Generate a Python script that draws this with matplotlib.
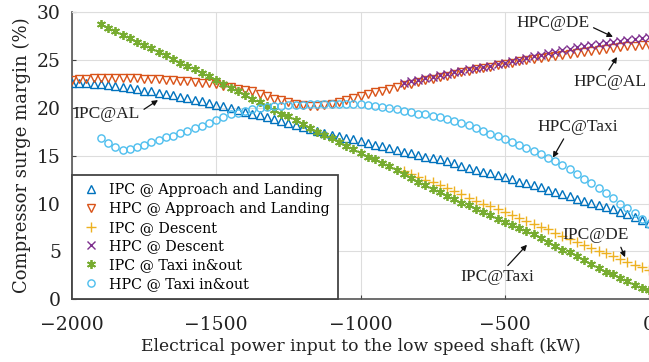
import matplotlib
matplotlib.use("Agg")
import matplotlib.pyplot as plt

# ---- data ----
X = [-2000, -1975, -1950, -1925, -1900, -1875, -1850, -1825, -1800, -1775,
     -1750, -1725, -1700, -1675, -1650, -1625, -1600, -1575, -1550, -1525,
     -1500, -1475, -1450, -1425, -1400, -1375, -1350, -1325, -1300, -1275,
     -1250, -1225, -1200, -1175, -1150, -1125, -1100, -1075, -1050, -1025,
     -1000, -975, -950, -925, -900, -875, -850, -825, -800, -775,
     -750, -725, -700, -675, -650, -625, -600, -575, -550, -525,
     -500, -475, -450, -425, -400, -375, -350, -325, -300, -275,
     -250, -225, -200, -175, -150, -125, -100, -75, -50, -25, 0]

ipc_al = [22.6, 22.6, 22.6, 22.5, 22.5, 22.4, 22.3, 22.2, 22.1, 22.0,
          21.8, 21.7, 21.5, 21.4, 21.3, 21.1, 21.0, 20.8, 20.7, 20.5,
          20.3, 20.2, 20.0, 19.8, 19.6, 19.4, 19.2, 19.0, 18.8, 18.6,
          18.4, 18.2, 18.0, 17.8, 17.6, 17.4, 17.2, 17.0, 16.8, 16.7,
          16.5, 16.3, 16.1, 16.0, 15.8, 15.6, 15.4, 15.3, 15.1, 14.9,
          14.8, 14.6, 14.4, 14.2, 13.9, 13.7, 13.5, 13.3, 13.2, 13.0,
          12.8, 12.6, 12.3, 12.1, 11.9, 11.7, 11.4, 11.2, 11.0, 10.8,
          10.5, 10.3, 10.1, 9.9, 9.6, 9.4, 9.1, 8.9, 8.6, 8.3, 8.0]

hpc_al = [22.9, 23.0, 23.0, 23.1, 23.1, 23.1, 23.1, 23.1, 23.1, 23.1,
          23.0, 23.0, 23.0, 22.9, 22.9, 22.8, 22.8, 22.7, 22.6, 22.6,
          22.5, 22.3, 22.2, 22.0, 21.9, 21.7, 21.4, 21.2, 20.9, 20.8,
          20.6, 20.4, 20.3, 20.2, 20.2, 20.3, 20.4, 20.6, 20.8, 21.0,
          21.2, 21.4, 21.6, 21.8, 22.0, 22.2, 22.4, 22.5, 22.7, 22.9,
          23.0, 23.2, 23.3, 23.5, 23.7, 23.8, 24.0, 24.2, 24.3, 24.5,
          24.6, 24.7, 24.9, 25.0, 25.1, 25.2, 25.3, 25.4, 25.5, 25.6,
          25.7, 25.8, 25.9, 26.0, 26.1, 26.2, 26.3, 26.4, 26.4, 26.5, 26.5]

ipc_de = [13.4, 13.1, 12.8, 12.5, 12.2, 11.9, 11.6, 11.3, 11.0, 10.6,
          10.3, 10.0, 9.7, 9.4, 9.1, 8.8, 8.5, 8.2, 7.9, 7.6,
          7.3, 6.9, 6.6, 6.3, 6.0, 5.7, 5.4, 5.1, 4.8, 4.5,
          4.2, 3.9, 3.6, 3.4, 3.1]

hpc_de = [22.6, 22.8, 22.9, 23.1, 23.2, 23.4, 23.5, 23.7, 23.8, 24.0,
          24.1, 24.3, 24.4, 24.6, 24.7, 24.9, 25.0, 25.2, 25.4, 25.5,
          25.7, 25.8, 26.0, 26.1, 26.3, 26.4, 26.6, 26.7, 26.8, 26.9,
          27.0, 27.1, 27.2, 27.3, 27.4]

ipc_taxi = [28.7, 28.3, 28.0, 27.6, 27.3, 26.9, 26.6, 26.2, 25.8, 25.5,
            25.1, 24.7, 24.4, 24.0, 23.6, 23.3, 22.9, 22.5, 22.1, 21.7,
            21.3, 20.9, 20.6, 20.2, 19.8, 19.4, 19.1, 18.7, 18.3, 17.9,
            17.5, 17.2, 16.8, 16.4, 16.0, 15.7, 15.3, 14.9, 14.6, 14.2,
            13.9, 13.5, 13.1, 12.7, 12.3, 11.9, 11.5, 11.2, 10.8, 10.5,
            10.1, 9.8, 9.4, 9.1, 8.8, 8.4, 8.1, 7.8, 7.5, 7.1,
            6.8, 6.4, 6.0, 5.6, 5.2, 4.9, 4.5, 4.1, 3.7, 3.3,
            2.9, 2.6, 2.2, 1.9, 1.5, 1.2, 1.0]

hpc_taxi = [16.8, 16.3, 15.9, 15.6, 15.7, 15.9, 16.1, 16.4, 16.6, 16.9,
            17.1, 17.4, 17.6, 17.9, 18.1, 18.4, 18.7, 19.0, 19.3, 19.5,
            19.7, 19.9, 20.0, 20.1, 20.2, 20.2, 20.3, 20.3, 20.3, 20.4,
            20.4, 20.4, 20.4, 20.4, 20.4, 20.4, 20.4, 20.3, 20.2, 20.1,
            20.0, 19.9, 19.7, 19.6, 19.4, 19.3, 19.1, 19.0, 18.8, 18.6,
            18.4, 18.2, 17.9, 17.6, 17.3, 17.0, 16.7, 16.4, 16.1, 15.8,
            15.5, 15.2, 14.8, 14.4, 14.0, 13.6, 13.1, 12.6, 12.1, 11.6,
            11.1, 10.6, 10.0, 9.5, 9.0, 8.4, 7.9]

x_al = X
x_taxi = X[4:]
x_de = X[46:]

labels = ["IPC @ Approach and Landing", "HPC @ Approach and Landing",
          "IPC @ Descent", "HPC @ Descent", "IPC @ Taxi in&out", "HPC @ Taxi in&out"]

x_ticks = [-2000, -1500, -1000, -500, 0]
x_tick_labels = ["\u22122000", "\u22121500", "\u22121000", "\u2212500", "0"]
y_ticks = [0, 5, 10, 15, 20, 25, 30]

c_blue = "#0072BD"
c_orange = "#D95319"
c_yellow = "#EDB120"
c_purple = "#7E2F8E"
c_green = "#77AC30"
c_cyan = "#4DBEEE"

serif = ["DejaVu Serif"]
ann_font = ["Liberation Serif"]

fig = plt.figure(figsize=(6.49, 3.62), dpi=100)
ax = fig.add_axes([0.111, 0.173, 0.889, 0.794])

ms = 5.2
mew = 1.0
ax.plot(x_al, ipc_al, linestyle="none", marker="^", markersize=ms, mfc="none",
        mec=c_blue, mew=mew, label=labels[0], zorder=3)
ax.plot(x_al, hpc_al, linestyle="none", marker="v", markersize=ms, mfc="none",
        mec=c_orange, mew=mew, label=labels[1], zorder=3)
ax.plot(x_de, ipc_de, linestyle="none", marker="+", markersize=ms + 1.5,
        mec=c_yellow, mew=mew, label=labels[2], zorder=3)
ax.plot(x_de, hpc_de, linestyle="none", marker="x", markersize=ms,
        mec=c_purple, mew=mew, label=labels[3], zorder=3)
ax.plot(x_taxi, ipc_taxi, linestyle="none", marker=(6, 2, 0), markersize=ms + 1.2,
        mec=c_green, mew=mew + 0.3, label=labels[4], zorder=3)
ax.plot(x_taxi, hpc_taxi, linestyle="none", marker="o", markersize=ms, mfc="none",
        mec=c_cyan, mew=mew, label=labels[5], zorder=3)

ax.set_xlim(-2000, 0)
ax.set_ylim(0, 30)
ax.set_xticks(x_ticks)
ax.set_yticks(y_ticks)
ax.set_xticklabels(x_tick_labels)
ax.grid(True, color="#dddddd", linewidth=0.8)
ax.set_axisbelow(True)
ax.tick_params(direction="in", length=3, colors="#444444", labelcolor="#222222",
               labelsize=13.5)
ax.tick_params(axis="x", pad=12)
ax.tick_params(axis="y", pad=8)
for lab in ax.get_xticklabels() + ax.get_yticklabels():
    lab.set_family(serif)

for side in ["left", "bottom"]:
    ax.spines[side].set_color("#555555")
    ax.spines[side].set_linewidth(1.2)
for side in ["top", "right"]:
    ax.spines[side].set_color("#dddddd")
    ax.spines[side].set_linewidth(0.8)

ax.set_xlabel("Electrical power input to the low speed shaft (kW)",
              family=serif, fontsize=12.3, color="#222222", labelpad=3)
ax.set_ylabel("Compressor surge margin (%)", family=serif, fontsize=13,
              color="#222222", labelpad=4)

leg = ax.legend(loc="lower left", bbox_to_anchor=(0, 0), borderaxespad=0,
                fancybox=False, framealpha=1, edgecolor="#444444",
                prop={"family": serif, "size": 10.3}, handlelength=1.5,
                handletextpad=0.45, labelspacing=0.33, borderpad=0.6,
                markerscale=1.0)
leg.get_frame().set_linewidth(1.3)

arrow = dict(arrowstyle="-|>", color="#111111", lw=0.9,
             mutation_scale=8, shrinkA=1, shrinkB=0)
ann = [
    ("IPC@AL", (-1702, 20.8), (-1879, 19.4), (1.0, 0.6)),
    ("HPC@DE", (-125, 27.4), (-333, 28.8), (1.0, 0.35)),
    ("HPC@AL", (-111, 25.3), (-135, 22.7), (0.45, 1.0)),
    ("HPC@Taxi", (-333, 14.8), (-246, 18.0), (0.35, 0.0)),
    ("IPC@DE", (-83, 4.4), (-184, 6.7), (0.85, 0.0)),
    ("IPC@Taxi", (-423, 5.7), (-527, 2.3), (0.6, 1.0)),
]
for txt, xy, xyt, rp in ann:
    a = dict(arrow)
    a["relpos"] = rp
    ax.annotate(txt, xy=xy, xytext=xyt, ha="center", va="center",
                family=ann_font, fontsize=12.5, color="#222222",
                arrowprops=a, zorder=5)

fig.savefig("out.png", dpi=100)
